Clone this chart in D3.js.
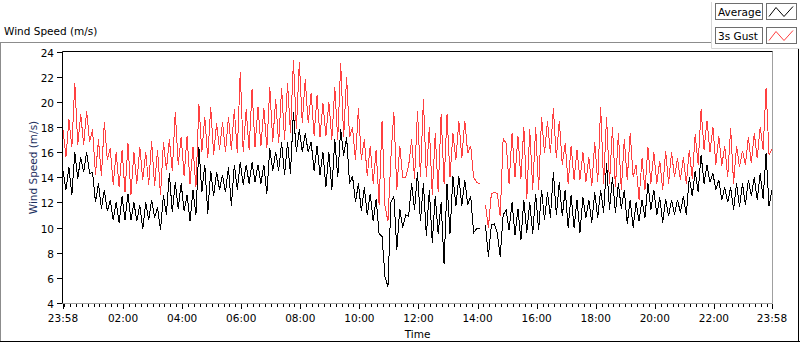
<!DOCTYPE html>
<html><head><meta charset="utf-8">
<script src="https://cdn.jsdelivr.net/npm/d3@7/dist/d3.min.js"></script>
<style>
body{margin:0;background:#fff}
svg{display:block}
text{font-family:"DejaVu Sans",Tahoma,sans-serif;font-size:10.5px;fill:#000}
</style>
</head><body><svg id="c" width="800" height="342"></svg>
<script>
// ---------------- data ----------------
const chartTitle = "Wind Speed (m/s)";
const xAxisTitle = "Time";
const seriesNames = ["Average", "3s Gust"];
const seriesColors = ["#000000", "#ff4040"];
const startTime = "2000-01-01 23:58";
const endTime = "2000-01-02 23:58";
const sampleStepMinutes = 6;
const yTicks = [4, 6, 8, 10, 12, 14, 16, 18, 20, 22, 24];
const xTickLabels = ["23:58", "02:00", "04:00", "06:00", "08:00", "10:00", "12:00",
                     "14:00", "16:00", "18:00", "20:00", "22:00", "23:58"];

const average = [
 14.5,13.0, 14.8,12.6, 16.0,13.9, 15.6,14.4, 16.0,14.3, 14.4,12.0, 13.5,11.5, 13.0,11.3, 12.2,10.6, 12.0,10.4,
 12.5,10.6, 12.7,10.6, 12.0,10.5, 11.8,9.9, 12.0,10.6, 12.2,10.8, 11.6,9.8, 12.6,11.0, 14.3,11.2, 13.6,11.5,
 13.5,11.3, 12.6,10.5, 13.0,11.0, 16.4,12.8, 15.0,11.1, 14.5,12.5, 14.4,13.0, 14.2,12.8, 14.8,11.7, 15.0,13.0,
 15.2,13.4, 15.0,13.5, 15.2,13.6, 15.0,13.5, 15.0,12.7, 16.3,14.5, 16.0,14.5, 16.8,14.2, 16.8,14.3, 19.2,16.0,
 17.8,16.0, 17.5,16.0, 16.8,14.5, 16.5,14.2, 16.0,13.2, 16.0,13.0, 17.0,14.0, 17.8,15.7, 17.2,13.5, 14.1,12.0,
 13.5,11.3, 13.2,11.0, 12.7,10.5, 12.3,9.5, 9.3,6.1, 5.3,12.0, 12.5,8.2, 11.5,10.0, 11.0,10.9, 13.5,11.4,
 14.4,10.5, 13.5,9.3, 13.0,8.8, 12.5,9.5, 12.0,7.1, 13.5,9.5, 14.1,11.7, 14.1,11.7, 13.8,11.8, 12.5,9.6,
 9.9,9.9, null,10.2, 7.7,10.2, 10.3,9.6, 7.7,11.0, 11.4,9.8, 12.0,9.4, 11.5,9.0, 12.2,9.6, 12.0,9.5,
 12.7,9.8, 13.0,10.6, 12.8,10.8, 14.4,11.0, 13.6,10.9, 13.0,10.0, 12.6,10.0, 12.2,9.6, 12.4,10.8, 12.2,10.4,
 12.8,10.8, 13.0,11.2, 15.1,11.4, 14.0,11.2, 13.5,11.5, 13.0,10.3, 12.2,10.0, 12.0,10.5, 12.2,10.8, 13.5,11.4,
 13.0,11.0, 12.4,10.4, 12.3,10.9, 12.2,11.0, 12.2,11.2, 12.5,11.0, 14.0,12.5, 14.5,12.8, 15.8,13.5, 15.0,13.6,
 14.3,13.0, 13.8,12.2, 13.2,12.0, 13.2,11.4, 13.5,11.6, 13.5,11.8, 13.8,12.5, 14.0,12.2, 14.3,12.3, 15.9,11.7,
 13.0
];

const gust = [
 17.8,15.6, 18.6,16.4, 21.5,16.6, 19.0,16.6, 19.3,16.8, 17.8,14.2, 17.0,14.1, 18.4,15.4, 16.3,13.4, 16.0,13.2,
 16.2,12.8, 16.7,12.6, 16.0,13.5, 16.4,13.8, 16.0,13.4, 16.9,13.3, 16.2,12.6, 16.8,14.6, 17.0,14.5, 19.2,15.0,
 17.2,14.1, 17.3,13.5, 16.4,13.2, 19.8,16.0, 18.8,15.5, 19.6,15.8, 18.3,16.2, 18.4,16.0, 18.8,16.2, 19.4,15.9,
 22.4,16.0, 19.4,16.2, 21.0,16.4, 19.6,16.5, 19.5,16.3, 21.2,16.8, 20.2,16.7, 21.1,17.0, 21.5,17.5, 23.3,17.8,
 23.2,18.3, 21.8,18.3, 20.7,17.3, 20.5,17.2, 19.9,17.3, 20.0,17.0, 21.2,17.0, 23.1,17.2, 22.0,17.2, 18.0,15.4,
 19.5,15.4, 17.0,14.1, 16.5,13.5, 16.2,11.8, 18.5,11.7, 10.5,15.6, 19.2,13.0, 16.5,14.0, 14.0,14.9, 17.0,13.9,
 19.3,14.0, 20.2,14.0, 18.0,12.6, 17.5,12.8, 19.0,13.5, 19.0,14.0, 17.5,15.4, 18.5,15.5, 18.5,15.9, 16.5,14.0,
 13.6,13.5, null,11.8, 10.0,12.7, 12.8,12.7, 10.9,17.1, 16.7,13.5, 17.5,14.0, 17.3,13.9, 18.0,12.3, 17.8,13.0,
 18.0,13.0, 18.8,15.9, 18.5,15.9, 19.5,15.5, 18.5,15.0, 16.7,13.5, 16.5,13.8, 16.2,13.8, 16.0,13.6, 15.6,13.3,
 16.8,13.6, 19.6,13.5, 18.8,13.5, 18.0,13.2, 17.5,13.0, 17.0,13.8, 17.5,14.0, 15.0,12.2, 15.5,13.0, 16.4,13.5,
 16.0,13.5, 15.3,13.0, 16.1,13.5, 16.0,14.0, 15.5,13.8, 15.6,13.5, 16.2,13.9, 17.4,15.0, 19.4,16.2, 18.5,16.0,
 18.0,15.0, 17.3,14.9, 16.5,14.0, 17.9,13.5, 16.5,14.8, 16.1,15.0, 17.2,15.1, 17.5,15.5, 18.0,16.2, 21.1,15.8,
 16.2
];

// ---------------- drawing ----------------
const svg = d3.select("#c");
const parse = d3.timeParse("%Y-%m-%d %H:%M");
const t0 = parse(startTime), t1 = parse(endTime);
const plot = {left: 62.5, right: 772.5, top: 51.5, bottom: 303.5};

const x = d3.scaleTime().domain([t0, t1]).range([63, 772]);
const y = d3.scaleLinear().domain([4, 24]).range([303, 51.5]);

// outer panel frame
svg.append("line").attr("x1", 0).attr("x2", 712).attr("y1", 42.5).attr("y2", 42.5)
  .attr("stroke", "#8c8c8c");
svg.append("line").attr("x1", 0.5).attr("x2", 0.5).attr("y1", 42).attr("y2", 341)
  .attr("stroke", "#8c8c8c");
svg.append("line").attr("x1", 0).attr("x2", 800).attr("y1", 341.5).attr("y2", 341.5)
  .attr("stroke", "#000");
svg.append("line").attr("x1", 798.5).attr("x2", 798.5).attr("y1", 48).attr("y2", 342)
  .attr("stroke", "#000");

// chart title
svg.append("text").attr("x", 4).attr("y", 35).text(chartTitle);

// plot frame
svg.append("rect").attr("x", plot.left).attr("y", plot.top)
  .attr("width", plot.right - plot.left).attr("height", plot.bottom - plot.top)
  .attr("fill", "#fff");
svg.append("line").attr("x1", plot.right).attr("x2", plot.right).attr("y1", plot.top).attr("y2", plot.bottom)
  .attr("stroke", "#a0a0a0");
svg.append("line").attr("x1", plot.left).attr("x2", plot.right).attr("y1", plot.bottom).attr("y2", plot.bottom)
  .attr("stroke", "#a0a0a0");
svg.append("line").attr("x1", plot.left).attr("x2", plot.right).attr("y1", plot.top).attr("y2", plot.top)
  .attr("stroke", "#000");
svg.append("line").attr("x1", plot.left).attr("x2", plot.left).attr("y1", plot.top).attr("y2", plot.bottom)
  .attr("stroke", "#000");

// y axis ticks + labels
const yg = svg.append("g");
yTicks.forEach(v => {
  const yy = Math.round(y(v)) + 0.5;
  yg.append("line").attr("x1", 57).attr("x2", 62).attr("y1", yy).attr("y2", yy).attr("stroke", "#000");
  yg.append("text").attr("x", 54).attr("y", yy).attr("text-anchor", "end")
    .attr("dominant-baseline", "central").text(v);
});

// y title
svg.append("text").attr("transform", "translate(33,167.5) rotate(-90)")
  .attr("text-anchor", "middle").attr("dominant-baseline", "central")
  .style("fill", "#1c2f5e").text(chartTitle);

// x axis ticks
const xg = svg.append("g");
const minorTicks = d3.timeMinute.every(12).range(t0, t1);
minorTicks.forEach(d => {
  const xx = Math.round(x(d)) + 0.5;
  xg.append("line").attr("x1", xx).attr("x2", xx).attr("y1", 304).attr("y2", 307).attr("stroke", "#000");
});
const tickDates = xTickLabels.map((lab, i) => {
  if (i === 0) return t0;
  if (i === xTickLabels.length - 1) return t1;
  return parse("2000-01-02 " + lab);
});
tickDates.forEach((d, i) => {
  const xx = Math.round(x(d)) + 0.5;
  xg.append("line").attr("x1", xx).attr("x2", xx).attr("y1", 304).attr("y2", 309).attr("stroke", "#000");
  xg.append("text").attr("x", x(d)).attr("y", 322).attr("text-anchor", "middle").text(xTickLabels[i]);
});
svg.append("text").attr("x", (plot.left + plot.right) / 2).attr("y", 338)
  .attr("text-anchor", "middle").text(xAxisTitle);

// series
const toPts = arr => arr.map((v, i) => ({t: d3.timeMinute.offset(t0, i * sampleStepMinutes), v}));
const line = d3.line().defined(d => d.v != null).x(d => x(d.t)).y(d => y(d.v));
const g = svg.append("g");
[[average, 0], [gust, 1]].forEach(([arr, i]) => {
  g.append("path").datum(toPts(arr)).attr("d", line)
    .attr("fill", "none").attr("stroke", seriesColors[i]).attr("stroke-width", 1)
    .attr("shape-rendering", "crispEdges");
});

// legend
const lg = svg.append("g");
lg.append("rect").attr("x", 712).attr("y", 0).attr("width", 88).attr("height", 48.5)
  .attr("fill", "#fff");
lg.append("line").attr("x1", 711.5).attr("x2", 711.5).attr("y1", 2).attr("y2", 48.5).attr("stroke", "#d6d6d6");
lg.append("line").attr("x1", 711.5).attr("x2", 799).attr("y1", 48.5).attr("y2", 48.5).attr("stroke", "#d6d6d6");
seriesNames.forEach((name, i) => {
  const top = 3.5 + i * 24;
  lg.append("rect").attr("x", 715.5).attr("y", top).attr("width", 47).attr("height", 16)
    .attr("fill", "#fff").attr("stroke", "#6e6e6e");
  lg.append("text").attr("x", 718).attr("y", top + 8).attr("dominant-baseline", "central").text(name);
  lg.append("rect").attr("x", 766.5).attr("y", top).attr("width", 30).attr("height", 16)
    .attr("fill", "#fff").attr("stroke", "#6e6e6e");
  const gx = [769, 776, 784, 793], gy = [top + 13, top + 4, top + 13, top + 3];
  lg.append("path").attr("d", d3.line()(gx.map((v, k) => [v, gy[k]])))
    .attr("fill", "none").attr("stroke", seriesColors[i]);
});
</script>
</body></html>
